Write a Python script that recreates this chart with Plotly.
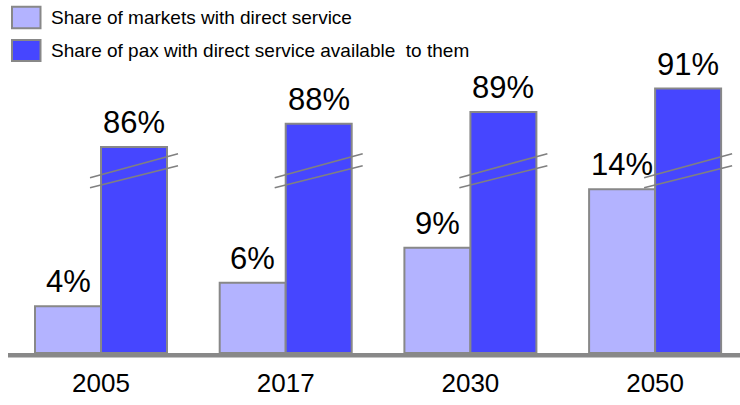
import plotly.graph_objects as go

years = ["2005", "2017", "2030", "2050"]
markets_share = [4, 6, 9, 14]
pax_share = [86, 88, 89, 91]
series_names = ["Share of markets with direct service",
                "Share of pax with direct service available  to them"]

# broken axis: the tall series is drawn with this amount cut out
BREAK_OFFSET = 68.4

W, H = 740, 405
ML, MR, MT, MB = 8, 0, 40, 52
PW, PH = W - ML - MR, H - MT - MB
PX_PER_UNIT = 11.7
PX_PER_CAT = 184.7

light = "#B3B3FF"
dark = "#4646FF"
edge = "#888888"
font_fam = "Arial, Liberation Sans, sans-serif"


def px_x(px):
    return (px - ML) / PW


def px_y(py):
    return (H - MB - py) / PH


fig = go.Figure()
fig.add_trace(go.Bar(
    x=years, y=markets_share, name=series_names[0],
    marker=dict(color=light, line=dict(color=edge, width=2)),
    showlegend=False,
))
fig.add_trace(go.Bar(
    x=years, y=[v - BREAK_OFFSET for v in pax_share], name=series_names[1],
    marker=dict(color=dark, line=dict(color=edge, width=2)),
    showlegend=False,
))

annotations = []
bar_off = 33 / PX_PER_CAT
for i, yr in enumerate(years):
    annotations.append(dict(x=i - bar_off, y=markets_share[i], xref="x", yref="y",
                            yshift=5, xanchor="center", yanchor="bottom",
                            text=f"{markets_share[i]}%", showarrow=False,
                            font=dict(size=31, color="black", family=font_fam)))
    annotations.append(dict(x=i + bar_off, y=pax_share[i] - BREAK_OFFSET, xref="x", yref="y",
                            yshift=5, xanchor="center", yanchor="bottom",
                            text=f"{pax_share[i]}%", showarrow=False,
                            font=dict(size=31, color="black", family=font_fam)))

shapes = []
# baseline
shapes.append(dict(type="rect", xref="paper", yref="paper",
                   x0=0, x1=1, y0=0, y1=px_y(H - MB + 4.5),
                   fillcolor=edge, line=dict(width=0), layer="above"))
# break marks on the tall bars
half = 44 / PX_PER_CAT
for i in range(len(years)):
    cx = i + bar_off
    for (yl, yr_) in [((353.3 - 178) / PX_PER_UNIT, (353.3 - 154) / PX_PER_UNIT),
                      ((353.3 - 188) / PX_PER_UNIT, (353.3 - 166) / PX_PER_UNIT)]:
        shapes.append(dict(type="line", xref="x", yref="y",
                           x0=cx - half, x1=cx + half, y0=yl, y1=yr_,
                           line=dict(color="#808080", width=1.6), layer="above"))

# manual legend
for k, (col, ytop, ybot) in enumerate([(light, 6.7, 28.3), (dark, 40, 61)]):
    shapes.append(dict(type="rect", xref="paper", yref="paper",
                       x0=px_x(12), x1=px_x(40.5), y0=px_y(ybot), y1=px_y(ytop),
                       fillcolor=col, line=dict(color=edge, width=2)))
    annotations.append(dict(xref="paper", yref="paper", x=px_x(49),
                            y=px_y((ytop + ybot) / 2), xanchor="left", yanchor="middle",
                            text=series_names[k], showarrow=False,
                            font=dict(size=19, color="black", family=font_fam)))

fig.update_layout(
    width=W, height=H,
    margin=dict(l=ML, r=MR, t=MT, b=MB),
    plot_bgcolor="white", paper_bgcolor="white",
    barmode="group", bargap=0.2853, bargroupgap=0,
    xaxis=dict(type="category", range=[-93 / PX_PER_CAT, -93 / PX_PER_CAT + PW / PX_PER_CAT],
               showgrid=False, zeroline=False, showline=False,
               ticks="outside", ticklen=7, tickcolor="rgba(0,0,0,0)",
               tickfont=dict(size=26, color="black", family=font_fam)),
    yaxis=dict(range=[0, PH / PX_PER_UNIT], visible=False),
    shapes=shapes, annotations=annotations,
    showlegend=False,
)
fig.write_html("out.html")
